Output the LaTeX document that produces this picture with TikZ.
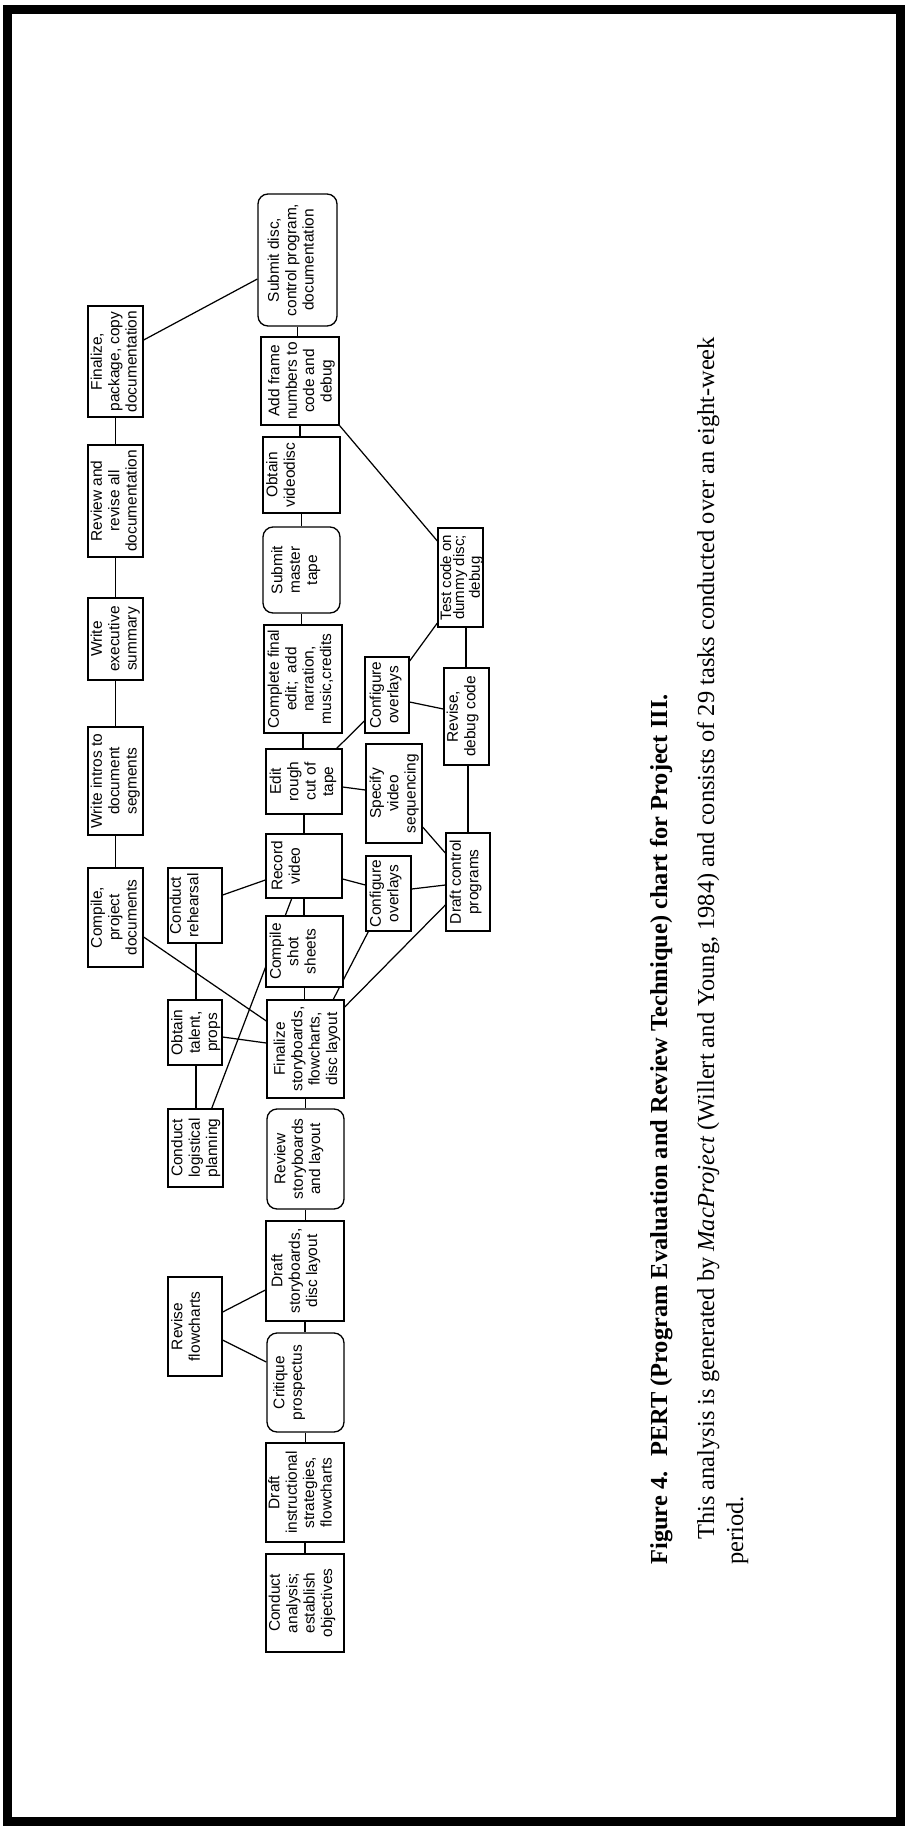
\documentclass[tikz,border=0pt]{standalone}
\usepackage{fontspec}
\setmainfont{Liberation Serif}
\newfontfamily\boxfont{Liberation Sans}
\usetikzlibrary{calc}
\pgfdeclarelayer{background}
\pgfsetlayers{background,main}
% #1 name, #2 x1, #3 y1, #4 x2, #5 y2 (page px), #6 style, #7 text padding px, #8 text
\newcommand\taskbox[8]{%
  \node[#6, minimum width={(#4-#2)*0.02cm}, minimum height={(#5-#3)*0.02cm}] (#1) at ({(#2+#4)/2},{(#3+#5)/2}) {};
  \node[txt] (#1t) at ([xshift={#7*0.02cm}]#1.west) {#8};
}
\begin{document}
\begin{tikzpicture}[x=0.02cm,y=-0.02cm,
  box/.style={draw, line width=0.75pt, inner sep=0pt, fill=white},
  rbox/.style={box, rounded corners=0.2cm},
  txt/.style={rotate=90, anchor=north, align=center, inner sep=0pt,
     font=\boxfont\fontsize{8.8}{9.9}\selectfont},
  tighttxt/.style={txt, font=\boxfont\fontsize{8.6}{7.4}\selectfont},
  conn/.style={line width=0.7pt},
  captext/.style={rotate=90, anchor=base west, inner sep=0pt, font=\fontsize{13.9}{13}\selectfont}]
\useasboundingbox (0,0) rectangle (909,1830);
\draw[line width=0.18cm] (7.5,9.5) rectangle (900,1821);

% main row
\taskbox{sdisc}{258}{194}{337}{326}{rbox}{10}{Submit disc,\\control program,\\documentation}
\taskbox{addf}{261}{337}{339}{425}{box}{7.5}{Add frame\\numbers to\\code and\\debug}
\taskbox{ovd}{263}{437}{340}{513}{box}{3.5}{Obtain\\videodisc}
\taskbox{smt}{263}{527}{340}{613}{rbox}{8.5}{Submit\\master\\tape}
\taskbox{cfe}{264}{625}{342}{733}{box}{4}{Complete final\\edit;\ \ add\\narration,\\music,credits}
\taskbox{erc}{266}{749}{342}{814}{box}{4}{Edit\\rough\\cut of\\tape}
\taskbox{rec}{266}{834}{342}{898}{box}{5.5}{Record\\video}
\taskbox{css}{266}{916}{343}{987}{box}{4}{Compile\\shot\\sheets}
\taskbox{fin}{267}{1000}{344}{1098}{box}{7}{Finalize\\storyboards,\\flowcharts,\\disc layout}
\taskbox{rsl}{267}{1109}{344}{1209}{rbox}{7.5}{Review\\storyboards\\and layout}
\taskbox{dsb}{266}{1221}{344}{1321}{box}{5.5}{Draft\\storyboards,\\disc layout}
\taskbox{crit}{267}{1333}{344}{1432}{rbox}{6.5}{Critique\\prospectus}
\taskbox{dis}{266}{1443}{344}{1542}{box}{2.5}{Draft\\instructional\\strategies,\\flowcharts}
\taskbox{ca}{266}{1554}{344}{1652}{box}{3}{Conduct\\analysis;\\establish\\objectives}

% second row (above main row in reading order)
\taskbox{rfl}{168}{1277}{222}{1376}{box}{3.5}{Revise\\flowcharts}
\taskbox{clp}{168}{1109}{223}{1187}{box}{3.5}{Conduct\\logistical\\planning}
\taskbox{otp}{168}{1000}{222}{1065}{box}{3.5}{Obtain\\talent,\\props}
\taskbox{crh}{168}{868}{222}{943}{box}{2}{Conduct\\rehearsal}

% top row
\taskbox{cpd}{88}{868}{143}{967}{box}{3}{Compile,\\project\\documents}
\taskbox{wid}{88}{727}{143}{835}{box}{3}{Write intros to\\document\\segments}
\taskbox{wes}{88}{598}{143}{680}{box}{3}{Write\\executive\\summary}
\taskbox{rra}{88}{445}{143}{557}{box}{3}{Review and\\revise all\\documentation}
\taskbox{fpc}{88}{306}{143}{417}{box}{3}{Finalize,\\package, copy\\documentation}

% lower rows
\taskbox{co1}{365}{657}{409}{733}{box}{5}{Configure\\overlays}
\taskbox{spv}{366}{744}{422}{843}{box}{4}{Specify\\video\\sequencing}
\taskbox{co2}{366}{856}{411}{931}{box}{4}{Configure\\overlays}
\taskbox{dcp}{446}{833}{490}{931}{box}{4}{Draft control\\programs}
\taskbox{rdc}{444}{668}{489}{765}{box}{3}{Revise,\\debug code}
\node[box, minimum width={45*0.02cm}, minimum height={99*0.02cm}] (tcd) at (460.5,577.5) {};
\node[tighttxt] (tcdt) at ([xshift={2.5*0.02cm}]tcd.west) {Test code on\\dummy disc;\\debug};

\begin{pgfonlayer}{background}
% main row chain
\foreach \a/\b in {sdisc/addf,addf/ovd,ovd/smt,smt/cfe,cfe/erc,erc/rec,rec/css,css/fin,fin/rsl,rsl/dsb,dsb/crit,crit/dis,dis/ca}
  \draw[conn] (\a.south) -- (\a.south |- \b.north);
% top row chain
\foreach \a/\b in {fpc/rra,rra/wes,wes/wid,wid/cpd}
  \draw[conn] (\a.south) -- (\a.south |- \b.north);
\draw[conn] (196,0 |- crh.south) -- (196,0 |- otp.north);
\draw[conn] (196,0 |- otp.south) -- (196,0 |- clp.north);
\draw[conn] (466,0 |- tcd.south) -- (466,0 |- rdc.north);
\draw[conn] (468,0 |- rdc.south) -- (468,0 |- dcp.north);
% diagonals
\draw[conn] (rfl.east |- 0,1312) -- (dsb.west |- 0,1290);
\draw[conn] (rfl.east |- 0,1340) -- (crit.west |- 0,1362);
\draw[conn] (211.7,0 |- clp.north) -- (291.7,0 |- rec.south);
\draw[conn] (otp.east |- 0,1037) -- (fin.west |- 0,1043);
\draw[conn] (crh.east |- 0,895) -- (rec.west |- 0,880);
\draw[conn] (cpd.east |- 0,937) -- (fin.west |- 0,1021);
\draw[conn] (333.3,0 |- fin.north) -- (368.3,0 |- co2.south);
\draw[conn] (fin.east |- 0,1007) -- (dcp.west |- 0,905);
\draw[conn] (rec.east |- 0,879) -- (co2.west |- 0,885);
\draw[conn] (co2.east |- 0,889) -- (dcp.west |- 0,885);
\draw[conn] (erc.east |- 0,787) -- (spv.west |- 0,790);
\draw[conn] (spv.east |- 0,827) -- (dcp.west |- 0,853);
\draw[conn] (336.7,0 |- erc.north) -- (co1.west |- 0,721);
\draw[conn] (co1.east |- 0,661) -- (tcd.west |- 0,623);
\draw[conn] (co1.east |- 0,702) -- (rdc.west |- 0,709);
\draw[conn] (addf.south east) -- (tcd.west |- 0,541);
\draw[conn] (fpc.east |- 0,340) -- (sdisc.west |- 0,279);
\end{pgfonlayer}

% caption
\node[captext, font=\bfseries\fontsize{13.9}{13}\selectfont] (title) at (667,1565)
  {Figure 4.\hspace{0.6em}PERT (Program Evaluation and Review Technique) chart for Project III.};
\node[captext] (body1) at (714,1540)
  {This analysis is generated by \textit{MacProject} (Willert and Young, 1984) and consists of 29 tasks conducted over an eight-week};
\node[captext] (body2) at (743,1565) {period.};
\end{tikzpicture}
\end{document}
